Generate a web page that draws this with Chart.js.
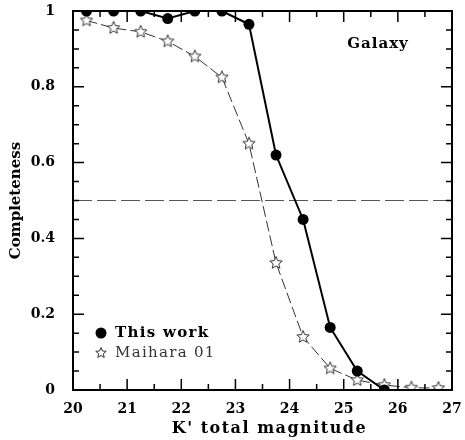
<!DOCTYPE html>
<html>
<head>
<meta charset="utf-8">
<script src="https://cdn.jsdelivr.net/npm/chart.js@4.4.0/dist/chart.umd.min.js"></script>
<style>
  html, body { margin: 0; padding: 0; background: #fff; }
  #wrap { width: 465px; height: 440px; }
</style>
</head>
<body>
<div id="wrap"><canvas id="chart" width="465" height="440"></canvas></div>
<script>
// K' magnitude bins and completeness
const workMags = [20.25, 20.75, 21.25, 21.75, 22.25, 22.75, 23.25, 23.75, 24.25, 24.75, 25.25, 25.75];
const thisWork = [1, 1, 1, 0.98, 1, 1, 0.965, 0.62, 0.45, 0.165, 0.05, 0.0];
const maiharaMags = [20.25, 20.75, 21.25, 21.75, 22.25, 22.75, 23.25, 23.75, 24.25, 24.75, 25.25, 25.75, 26.25, 26.75];
const maihara01 = [0.975, 0.955, 0.945, 0.92, 0.88, 0.825, 0.65, 0.335, 0.14, 0.057, 0.026, 0.013, 0.006, 0.005];
const halfLevel = 0.5;
const xTicks = [20, 21, 22, 23, 24, 25, 26, 27];
const yTicks = [0, 0.2, 0.4, 0.6, 0.8, 1];
const seriesNames = ['This work', 'Maihara 01'];
const panelLabel = 'Galaxy';
const xTitle = "K' total magnitude";
const yTitle = 'Completeness';

const FONT = '"DejaVu Serif", serif';
const GREY = '#333';

function starImage(r, stroke, fill) {
    let c = document.createElement('canvas');
    let s = Math.ceil(r * 2 + 3);
    c.width = s;
    c.height = s;
    let g = c.getContext('2d');
    g.beginPath();
    for (let i = 0; i < 10; i++) {
        let a = -Math.PI / 2 + i * Math.PI / 5;
        let rr = i % 2 ? r * 0.45 : r;
        g.lineTo(s / 2 + rr * Math.cos(a), s / 2 + rr * Math.sin(a));
    }
    g.closePath();
    g.fillStyle = fill;
    g.fill();
    g.lineWidth = 1;
    g.strokeStyle = stroke;
    g.stroke();
    return c;
}

const star = starImage(6.5, GREY, '#fff');
const legendStar = starImage(5.5, GREY, '#fff');

function subdivide(ticks, parts) {
    let out = [];
    for (let i = 0; i < ticks.length - 1; i++) {
        let step = (ticks[i + 1] - ticks[i]) / parts;
        for (let k = 1; k < parts; k++) out.push(ticks[i] + k * step);
    }
    return out;
}

// ticks on the inside of all four sides plus the frame
const innerTicks = {
    id: 'innerTicks',
    afterDraw(chart) {
        let {ctx, chartArea: a, scales: {x, y}} = chart;
        ctx.save();
        ctx.strokeStyle = '#000';
        ctx.lineWidth = 1.5;
        ctx.beginPath();
        let xt = (vals, len) => vals.forEach(v => {
            let px = x.getPixelForValue(v);
            ctx.moveTo(px, a.bottom); ctx.lineTo(px, a.bottom - len);
            ctx.moveTo(px, a.top); ctx.lineTo(px, a.top + len);
        });
        let yt = (vals, len) => vals.forEach(v => {
            let py = y.getPixelForValue(v);
            ctx.moveTo(a.left, py); ctx.lineTo(a.left + len, py);
            ctx.moveTo(a.right, py); ctx.lineTo(a.right - len, py);
        });
        xt(xTicks, 11);
        xt(subdivide(xTicks, 2), 6);
        yt(yTicks, 11);
        yt(subdivide(yTicks, 4), 6);
        ctx.stroke();
        ctx.lineWidth = 2;
        ctx.strokeRect(a.left, a.top, a.width, a.height);
        ctx.restore();
    }
};

const labels = {
    id: 'labels',
    afterDraw(chart) {
        let {ctx, chartArea: a} = chart;
        ctx.save();
        ctx.textBaseline = 'middle';
        ctx.fillStyle = '#000';

        // axis titles
        ctx.font = 'bold 16px ' + FONT;
        ctx.letterSpacing = '1.5px';
        ctx.textAlign = 'center';
        ctx.fillText(xTitle, (a.left + a.right) / 2 + 7, 429);
        ctx.save();
        ctx.letterSpacing = '0px';
        ctx.font = 'bold 15px ' + FONT;
        ctx.translate(16, (a.top + a.bottom) / 2);
        ctx.rotate(-Math.PI / 2);
        ctx.fillText(yTitle, 0, 0);
        ctx.restore();

        ctx.font = 'bold 15px ' + FONT;
        ctx.letterSpacing = '1px';
        ctx.fillText(panelLabel, a.left + 305, a.top + 33);

        ctx.textAlign = 'left';
        ctx.letterSpacing = '1.3px';
        ctx.beginPath();
        ctx.arc(a.left + 28, a.bottom - 57, 5.5, 0, Math.PI * 2);
        ctx.fill();
        ctx.fillText(seriesNames[0], a.left + 42, a.bottom - 57);

        ctx.drawImage(legendStar, a.left + 28 - legendStar.width / 2, a.bottom - 37 - legendStar.height / 2);
        ctx.font = '15px ' + FONT;
        ctx.fillStyle = GREY;
        ctx.fillText(seriesNames[1], a.left + 42, a.bottom - 37);
        ctx.restore();
    }
};

let ctx = document.getElementById('chart').getContext('2d');

new Chart(ctx, {
    type: 'line',
    data: {
        datasets: [
            {
                label: seriesNames[0],
                data: workMags.map((m, i) => ({x: m, y: thisWork[i]})),
                borderColor: '#000',
                borderWidth: 2,
                backgroundColor: '#000',
                pointRadius: 5.5,
                pointBorderWidth: 0,
                clip: 0
            },
            {
                label: seriesNames[1],
                data: maiharaMags.map((m, i) => ({x: m, y: maihara01[i]})),
                borderColor: GREY,
                borderWidth: 1,
                borderDash: [11, 4],
                pointStyle: star,
                clip: 0
            },
            {
                label: 'half',
                data: [{x: xTicks[0], y: halfLevel}, {x: xTicks[xTicks.length - 1], y: halfLevel}],
                borderColor: '#555',
                borderWidth: 1,
                borderDash: [19, 5],
                pointRadius: 0,
                clip: 0
            }
        ]
    },
    options: {
        responsive: false,
        devicePixelRatio: 1,
        animation: false,
        layout: {padding: {top: 11, right: 13, left: 0, bottom: 0}},
        elements: {line: {tension: 0}},
        plugins: {
            legend: {display: false},
            tooltip: {enabled: false},
            title: {display: false}
        },
        scales: {
            x: {
                type: 'linear',
                min: 20,
                max: 27,
                afterBuildTicks: s => { s.ticks = xTicks.map(v => ({value: v})); },
                afterFit: s => { s.height = 50; s.paddingLeft = 0; s.paddingRight = 0; },
                grid: {display: false},
                border: {display: false},
                ticks: {
                    padding: 3,
                    color: '#000',
                    maxRotation: 0,
                    callback: v => String(v),
                    font: {family: FONT, size: 14, weight: 'bold'}
                }
            },
            y: {
                min: 0,
                max: 1,
                afterBuildTicks: s => { s.ticks = yTicks.map(v => ({value: v})); },
                afterFit: s => { s.width = 73; s.paddingTop = 0; s.paddingBottom = 0; },
                grid: {display: false},
                border: {display: false},
                ticks: {
                    padding: 10,
                    color: '#000',
                    callback: v => String(v),
                    font: {family: FONT, size: 14, weight: 'bold'}
                }
            }
        }
    },
    plugins: [innerTicks, labels]
});
</script>
</body>
</html>
